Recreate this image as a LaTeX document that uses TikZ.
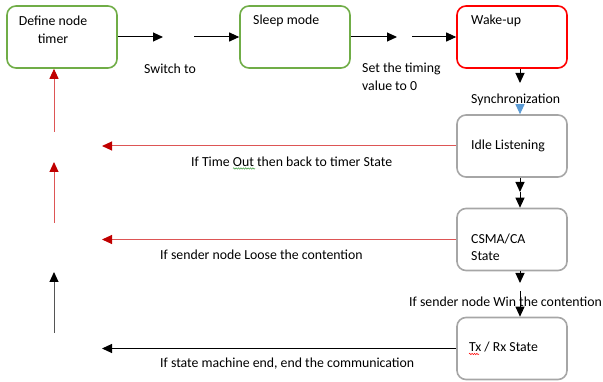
\documentclass[tikz,border=0pt]{standalone}
\usepackage{fontspec}
\setmainfont{Carlito}
\usetikzlibrary{arrows.meta,decorations.pathmorphing}
\definecolor{boxgreen}{HTML}{70AD47}
\definecolor{boxred}{HTML}{FF0000}
\definecolor{boxgray}{HTML}{A6A6A6}
\definecolor{darkred}{HTML}{C00000}
\definecolor{linered}{HTML}{DD5555}
\definecolor{headblue}{HTML}{5B9BD5}
\definecolor{linegray}{HTML}{555555}
\definecolor{squiggreen}{HTML}{3C9A3C}
\begin{document}
\begin{tikzpicture}[x=1pt,y=-1pt,
  box/.style={draw, rounded corners=9pt, line width=1.6pt, minimum width=110pt, minimum height=62pt, inner sep=0pt},
  txt/.style={font=\fontsize{13.8}{17.5}\selectfont, inner sep=0pt, anchor=west, align=left},
  arr/.style={line width=1pt, -{Triangle[length=10pt,width=9pt]}},
  redarr/.style={line width=1pt, draw=linered, -{Triangle[length=10pt,width=9pt,color=darkred]}},
  grayarr/.style={line width=1pt, draw=linegray, -{Triangle[length=10pt,width=9pt,color=black]}},
  squig/.style={line width=0.5pt, decorate, decoration={snake, amplitude=0.7pt, segment length=2.4pt}},
]
\useasboundingbox (0,0) rectangle (603,382);
% boxes
\node[box, draw=boxgreen] (define) at (62,37) {};
\node[box, draw=boxgreen] (sleep) at (295,37) {};
\node[box, draw=boxred] (wake) at (512,37) {};
\node[box, draw=boxgray] (idle) at (512,146) {};
\node[box, draw=boxgray] (csma) at (512,239.5) {};
\node[box, draw=boxgray] (txrx) at (512,348.5) {};
% texts
\node[txt, align=center, anchor=center] (tdefine) at (53,30) {Define node\\timer};
\node[txt] (tsleep) at (253,21) {Sleep mode};
\node[txt] (twake) at (471,21) {Wake-up};
\node[txt] (tidle) at (471,146) {Idle Listening};
\node[txt] (tcsma) at (471,247.5) {CSMA/CA\\State};
\node[txt] (ttx) at (469,347) {Tx / Rx State};
\node[txt] (tswitch) at (144,69) {Switch to};
\node[txt] (ttiming) at (362,77) {Set the timing\\value to 0};
\node[txt] (tsync) at (471,100) {Synchronization};
\node[txt] (ttimeout) at (191,162) {If Time Out then back to timer State};
\node[txt] (tloose) at (160,255) {If sender node Loose the contention};
\node[txt] (twin) at (409,302) {If sender node Win the contention};
\node[txt] (tend) at (160,364) {If state machine end, end the communication};
% spell-check squiggles
\coordinate (q1) at (233,168.5);
\coordinate (q2) at (255,168.5);
\coordinate (q3) at (469,354);
\coordinate (q4) at (479,354);
\draw[squig, squiggreen] (q1) -- (q2);
\draw[squig, red] (q3) -- (q4);
% top row connectors
\coordinate (s1) at (163,37);
\coordinate (s2) at (194,37);
\coordinate (t1) at (397,37);
\coordinate (t2) at (412,37);
\draw[arr] (define.east) -- (s1);
\draw[arr] (s2) -- (sleep.west);
\draw[arr] (sleep.east) -- (t1);
\draw[arr] (t2) -- (wake.west);
% right column connectors
\coordinate (w1) at (520,83);
\draw[arr] (wake.south -| w1) -- (w1);
\coordinate (b1) at (520,104);
\draw[arr, headblue] (b1) -- (b1 |- idle.north);
\coordinate (i1) at (520,192);
\draw[arr] (i1 |- idle.south) -- (i1);
\draw[arr] (i1) -- (i1 |- csma.north);
\coordinate (c1) at (520,283);
\draw[arr] (c1 |- csma.south) -- (c1);
\coordinate (c2) at (520,291);
\draw[arr] (c2) -- (c2 |- txrx.north);
% horizontal return connectors
\coordinate (h1) at (102,146);
\coordinate (h2) at (102,239.5);
\coordinate (h3) at (102,348.5);
\draw[redarr] (idle.west) -- (h1);
\draw[redarr] (csma.west) -- (h2);
\draw[grayarr, draw=black] (txrx.west) -- (h3);
% left column connectors
\coordinate (v1) at (54,132);
\coordinate (v2) at (54,223);
\coordinate (v3) at (54,162);
\coordinate (v4) at (54,333);
\coordinate (v5) at (54,272);
\draw[redarr] (v1) -- (v1 |- define.south);
\draw[redarr] (v2) -- (v3);
\draw[grayarr] (v4) -- (v5);
\end{tikzpicture}
\end{document}
